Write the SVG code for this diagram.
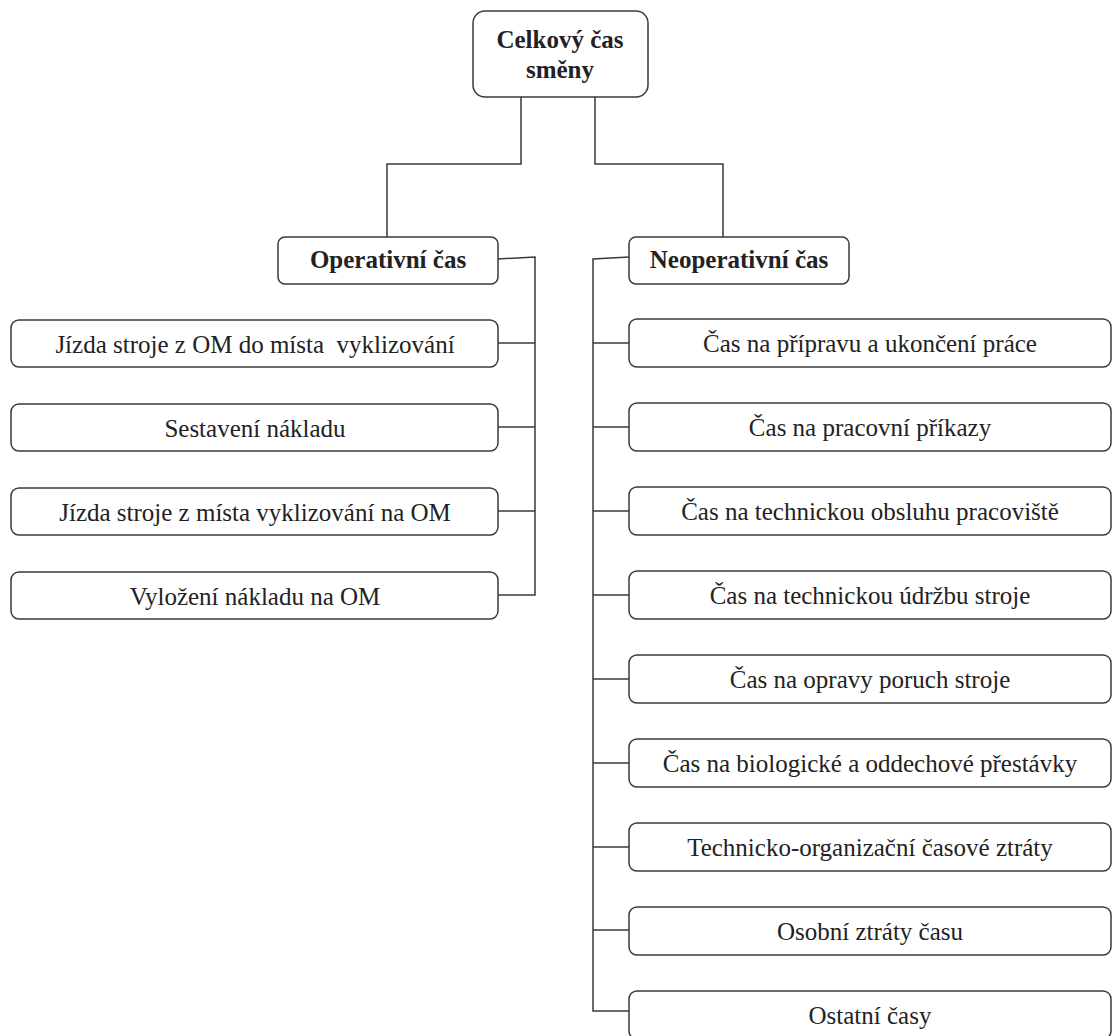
<svg xmlns="http://www.w3.org/2000/svg" width="1113" height="1036" viewBox="0 0 1113 1036">
<style>
.box{fill:#fff;stroke:#3a3a3a;stroke-width:1.5}
.t{font-family:"Liberation Serif",Tinos,"Times New Roman",serif;font-size:25px;fill:#222;text-anchor:middle}
.b{font-weight:bold}
.c{fill:none;stroke:#3a3a3a;stroke-width:1.5}
</style>
<rect width="1113" height="1036" fill="#fff"/>
<g id="connectors">
<polyline class="c" points="521,97 521,164 387,164 387,237"/>
<polyline class="c" points="595,97 595,164 723,164 723,237"/>
<polyline class="c" points="498,259 535,257 535,595 498,595"/>
<line class="c" x1="498" y1="343" x2="535" y2="343"/>
<line class="c" x1="498" y1="427" x2="535" y2="427"/>
<line class="c" x1="498" y1="511" x2="535" y2="511"/>
<polyline class="c" points="629,257 593,259 593,1011 629,1011"/>
<line class="c" x1="593" y1="343" x2="629" y2="343"/>
<line class="c" x1="593" y1="427" x2="629" y2="427"/>
<line class="c" x1="593" y1="511" x2="629" y2="511"/>
<line class="c" x1="593" y1="595" x2="629" y2="595"/>
<line class="c" x1="593" y1="679" x2="629" y2="679"/>
<line class="c" x1="593" y1="763" x2="629" y2="763"/>
<line class="c" x1="593" y1="847" x2="629" y2="847"/>
<line class="c" x1="593" y1="930" x2="629" y2="930"/>
</g>
<g id="root"><rect class="box" x="473" y="11" width="175" height="86" rx="12"/><text class="t b" x="560" y="48">Celkový čas</text><text class="t b" x="560" y="78">směny</text></g>
<g id="operativni"><rect class="box" x="278" y="237" width="220" height="47" rx="7"/><text class="t b" x="388" y="268">Operativní čas</text></g>
<g id="neoperativni"><rect class="box" x="629" y="237" width="220" height="47" rx="7"/><text class="t b" x="739" y="268">Neoperativní čas</text></g>
<g id="o1"><rect class="box" x="11" y="320" width="487" height="47" rx="8"/><text class="t" x="255" y="353" style="white-space:pre">Jízda stroje z OM do místa  vyklizování</text></g>
<g id="o2"><rect class="box" x="11" y="404" width="487" height="47" rx="8"/><text class="t" x="255" y="437">Sestavení nákladu</text></g>
<g id="o3"><rect class="box" x="11" y="488" width="487" height="47" rx="8"/><text class="t" x="255" y="521">Jízda stroje z místa vyklizování na OM</text></g>
<g id="o4"><rect class="box" x="11" y="572" width="487" height="47" rx="8"/><text class="t" x="255" y="605">Vyložení nákladu na OM</text></g>
<g id="n1"><rect class="box" x="629" y="319" width="482" height="48" rx="8"/><text class="t" x="870" y="352">Čas na přípravu a ukončení práce</text></g>
<g id="n2"><rect class="box" x="629" y="403" width="482" height="48" rx="8"/><text class="t" x="870" y="436">Čas na pracovní příkazy</text></g>
<g id="n3"><rect class="box" x="629" y="487" width="482" height="48" rx="8"/><text class="t" x="870" y="520">Čas na technickou obsluhu pracoviště</text></g>
<g id="n4"><rect class="box" x="629" y="571" width="482" height="48" rx="8"/><text class="t" x="870" y="604">Čas na technickou údržbu stroje</text></g>
<g id="n5"><rect class="box" x="629" y="655" width="482" height="48" rx="8"/><text class="t" x="870" y="688">Čas na opravy poruch stroje</text></g>
<g id="n6"><rect class="box" x="629" y="739" width="482" height="48" rx="8"/><text class="t" x="870" y="772">Čas na biologické a oddechové přestávky</text></g>
<g id="n7"><rect class="box" x="629" y="823" width="482" height="48" rx="8"/><text class="t" x="870" y="856">Technicko-organizační časové ztráty</text></g>
<g id="n8"><rect class="box" x="629" y="907" width="482" height="48" rx="8"/><text class="t" x="870" y="940">Osobní ztráty času</text></g>
<g id="n9"><rect class="box" x="629" y="991" width="482" height="48" rx="8"/><text class="t" x="870" y="1024">Ostatní časy</text></g>
</svg>
